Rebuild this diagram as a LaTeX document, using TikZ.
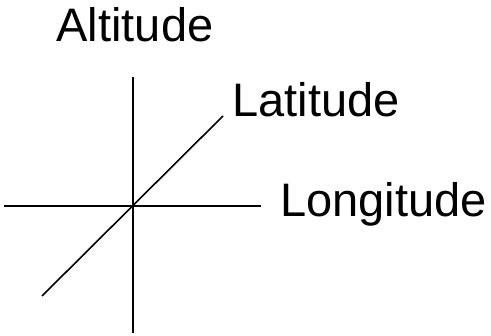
\documentclass[tikz,border=0pt]{standalone}
\usepackage{fontspec}
\setmainfont{Liberation Sans}
\begin{document}
\begin{tikzpicture}[x=1pt,y=1pt,line width=1.6pt,
    lbl/.style={font=\fontsize{47}{56}\selectfont, inner sep=0pt}]
    \useasboundingbox (0,0) rectangle (491,336);
    \coordinate (up) at (133,259);
    \coordinate (down) at (133,3);
    \coordinate (west) at (4,130);
    \coordinate (east) at (261,130);
    \coordinate (sw) at (42,40);
    \coordinate (ne) at (223,220);
    \draw (up) -- (down);
    \draw (west) -- (east);
    \draw (sw) -- (ne);
    \node[lbl, anchor=base] (alt) at (135,294) {Altitude};
    \node[lbl, anchor=base west] (lat) at (231.5,219) {Latitude};
    \node[lbl, anchor=base west] (lon) at (279.5,119) {Longitude};
\end{tikzpicture}
\end{document}
